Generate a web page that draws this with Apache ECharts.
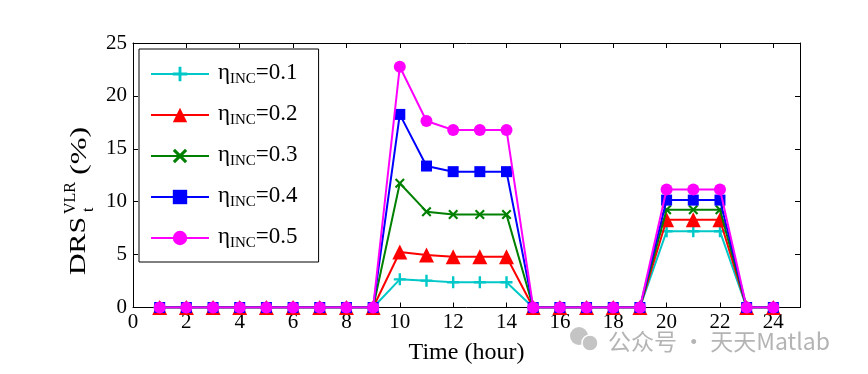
<!DOCTYPE html>
<html>
<head>
<meta charset="utf-8">
<script src="https://cdn.jsdelivr.net/npm/echarts@6/dist/echarts.min.js"></script>
<style>html,body{margin:0;padding:0;background:#fff;}#c{width:868px;height:374px;}</style>
</head>
<body>
<div id="c"></div>
<script>
var hours = [1,2,3,4,5,6,7,8,9,10,11,12,13,14,15,16,17,18,19,20,21,22,23,24];
var seriesNames = ['η_INC=0.1','η_INC=0.2','η_INC=0.3','η_INC=0.4','η_INC=0.5'];
var legendValues = ['0.1','0.2','0.3','0.4','0.5'];
var inc01 = [0,0,0,0,0,0,0,0,0,2.66,2.54,2.38,2.38,2.38,0,0,0,0,0,7.2,7.2,7.2,0,0];
var inc02 = [0,0,0,0,0,0,0,0,0,5.25,4.96,4.8,4.8,4.8,0,0,0,0,0,8.3,8.3,8.3,0,0];
var inc03 = [0,0,0,0,0,0,0,0,0,11.74,9.06,8.78,8.78,8.78,0,0,0,0,0,9.25,9.25,9.25,0,0];
var inc04 = [0,0,0,0,0,0,0,0,0,18.25,13.37,12.84,12.84,12.84,0,0,0,0,0,10.15,10.15,10.15,0,0];
var inc05 = [0,0,0,0,0,0,0,0,0,22.76,17.63,16.78,16.78,16.78,0,0,0,0,0,11.15,11.15,11.15,0,0];
var xTicks = [0,2,4,6,8,10,12,14,16,18,20,22,24];
var yTicks = [0,5,10,15,20,25];

var allValues = [inc01, inc02, inc03, inc04, inc05];
var colors = ['#00c8c8','#ff0000','#008000','#0000ff','#ff00ff'];
var plusPath = 'path://M4,0 L6,0 L6,4 L10,4 L10,6 L6,6 L6,10 L4,10 L4,6 L0,6 L0,4 L4,4 Z';
var crossPath = 'path://M1.5,0 L5,3.5 L8.5,0 L10,1.5 L6.5,5 L10,8.5 L8.5,10 L5,6.5 L1.5,10 L0,8.5 L3.5,5 L0,1.5 Z';
var symbols = [plusPath, 'triangle', crossPath, 'rect', 'circle'];
var sizes = [12, 15, 10, 11, 12];
var FONT = '"Liberation Serif", "Times New Roman", serif';

function pairs(vals){ return hours.map(function(h,i){ return [h, vals[i]]; }); }

var series = allValues.map(function(vals, k){
  return {
    name: seriesNames[k], type: 'line', data: pairs(vals),
    symbol: symbols[k], symbolSize: sizes[k], showAllSymbol: true,
    lineStyle: {color: colors[k], width: 2},
    itemStyle: {color: colors[k]},
    z: 2 + k, animation: false
  };
});

function axisCommon(extra){
  var base = {
    type: 'value', min: 0, max: 25,
    axisLine: {show: true, onZero: false, lineStyle: {color: '#000', width: 1}},
    axisTick: {show: true, inside: true, length: 5, lineStyle: {color: '#000'}},
    splitLine: {show: false},
    axisLabel: {show: false}
  };
  for (var k in extra) base[k] = extra[k];
  return base;
}

var chart = echarts.init(document.getElementById('c'), null, {renderer: 'canvas'});
chart.setOption({
  animation: false,
  backgroundColor: '#fff',
  grid: {left: 133, right: 68, top: 43, bottom: 66.5},
  xAxis: [
    axisCommon({position: 'bottom', interval: 2,
      axisLabel: {show: true, color: '#000', fontFamily: FONT, fontSize: 21, margin: 4, showMaxLabel: false,
        formatter: function(v){ return xTicks.indexOf(v) >= 0 ? String(v) : ''; }},
      name: 'Time (hour)', nameLocation: 'middle', nameGap: 33,
      nameTextStyle: {color: '#000', fontFamily: FONT, fontSize: 24}}),
    axisCommon({position: 'top', interval: 2})
  ],
  yAxis: [
    axisCommon({position: 'left', interval: 5,
      axisLabel: {show: true, color: '#000', fontFamily: FONT, fontSize: 21, margin: 6,
        formatter: function(v){ return yTicks.indexOf(v) >= 0 ? String(v) : ''; }}}),
    axisCommon({position: 'right', interval: 5})
  ],
  legend: {
    orient: 'vertical', left: 139, top: 49,
    padding: [3, 21, 11, 11],
    itemWidth: 58, itemHeight: 18, itemGap: 6,
    backgroundColor: '#fff', borderColor: '#000', borderWidth: 1,
    formatter: function(name){
      var i = seriesNames.indexOf(name);
      return '{a|η}{b|INC}{a|=' + legendValues[i] + '}';
    },
    textStyle: {
      color: '#000', fontFamily: FONT, fontSize: 23, padding: [0,0,0,4],
      rich: {
        a: {fontFamily: FONT, fontSize: 23, color: '#000', lineHeight: 26, verticalAlign: 'top'},
        b: {fontFamily: FONT, fontSize: 15, color: '#000', lineHeight: 16, verticalAlign: 'bottom', padding: [20,0,0,0]}
      }
    },
    data: seriesNames
  },
  series: series,
  graphic: [
    {type: 'text', x: 79, y: 275, rotation: Math.PI/2, scaleX: 1.3, scaleY: 1,
     style: {text: 'DRS', font: '23px ' + FONT, fill: '#000', align: 'left', verticalAlign: 'middle'}},
    {type: 'text', x: 71, y: 214, rotation: Math.PI/2,
     style: {text: 'VLR', font: '16px ' + FONT, fill: '#000', align: 'left', verticalAlign: 'middle'}},
    {type: 'text', x: 89, y: 212, rotation: Math.PI/2,
     style: {text: 't', font: '16px ' + FONT, fill: '#000', align: 'left', verticalAlign: 'middle'}},
    {type: 'text', x: 80, y: 175, rotation: Math.PI/2, scaleX: 1.4, scaleY: 1,
     style: {text: '(%)', font: '23px ' + FONT, fill: '#000', align: 'left', verticalAlign: 'middle'}},
    {type: 'circle', shape: {cx: 579, cy: 336, r: 9}, style: {fill: '#c4c4c4'}, z: 100},
    {type: 'circle', shape: {cx: 590, cy: 343, r: 8}, style: {fill: '#c4c4c4', stroke: '#fff', lineWidth: 1.5}, z: 101},
    {type: 'text', x: 608, y: 341,
     style: {text: '公众号 · 天天Matlab', font: '23px "Noto Sans CJK SC", "Noto Sans", sans-serif', fill: '#b4b4b4', align: 'left', verticalAlign: 'middle'}, z: 100}
  ]
});
</script>
</body>
</html>
